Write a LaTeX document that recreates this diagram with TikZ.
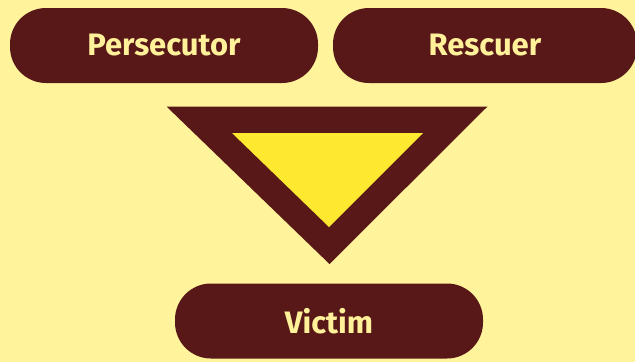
\documentclass[tikz,border=0pt]{standalone}
\usepackage{fontspec}
\setmainfont{Fira Sans}
\definecolor{bgyellow}{HTML}{FFF39B}
\definecolor{darkbrown}{HTML}{581818}
\definecolor{innery}{HTML}{FFE830}
\definecolor{txtyellow}{HTML}{FFF09A}
\begin{document}
\begin{tikzpicture}[x=1pt,y=-1pt,
  pill/.style={fill=darkbrown, rounded corners=36pt, text=txtyellow,
    font=\fontsize{31}{35}\selectfont\bfseries, minimum height=75pt, inner sep=0pt}]
\fill[bgyellow] (0,0) rectangle (635,362);
\useasboundingbox (0,0) rectangle (635,362);
\node[pill, minimum width=308pt] (pers) at (164,45.5) {Persecutor};
\node[pill, minimum width=304pt] (resc) at (485,45.5) {Rescuer};
\node[pill, minimum width=308pt] (vict) at (329,321) {Victim};
\coordinate (otl) at (166.5,106.5);
\coordinate (otr) at (487.5,106.5);
\coordinate (obt) at (329.5,264);
\coordinate (itl) at (232,133);
\coordinate (itr) at (423,133);
\coordinate (ibt) at (329,227);
\fill[darkbrown] (otl) -- (otr) -- (obt) -- cycle;
\fill[innery] (itl) -- (itr) -- (ibt) -- cycle;
\end{tikzpicture}
\end{document}
